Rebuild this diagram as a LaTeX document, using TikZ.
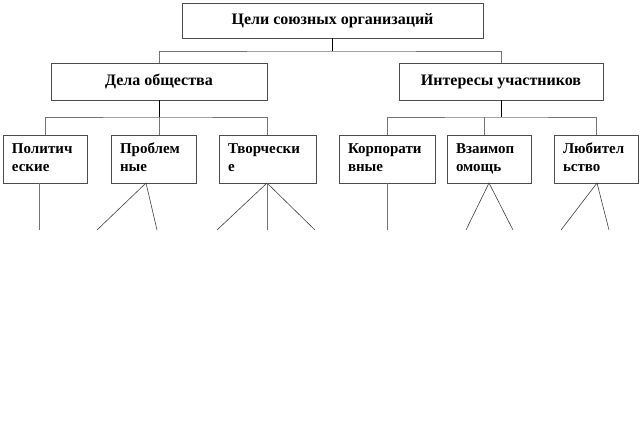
\documentclass[tikz,border=0pt]{standalone}
\usepackage{fontspec}
\setmainfont{Liberation Serif}
\tikzset{
  box/.style={draw=black!70, line width=0.8pt, fill=white, inner sep=0pt, font=\fontsize{16}{18}\selectfont\bfseries},
  leaf/.style={box, minimum height=48pt, align=left, inner xsep=9pt, font=\fontsize{15}{17.5}\selectfont\bfseries},
  conn/.style={draw=black!55, line width=0.8pt},
  stem/.style={draw=black, line width=0.9pt},
  diag/.style={draw=black!75, line width=0.6pt}
}
\begin{document}
\begin{tikzpicture}[x=1pt,y=-1pt]
\useasboundingbox (0,0) rectangle (642,423);
% top
\node[box, minimum width=301pt, minimum height=35pt] (top) at (332.5,20.5) {Цели союзных организаций};
\node[box, minimum width=216pt, minimum height=37pt] (da) at (159,81.5) {Дела общества};
\node[box, minimum width=204pt, minimum height=37pt] (ib) at (501,81.5) {Интересы участников};
% leaves
\node[leaf, minimum width=84pt, text width=66pt] (b1) at (45,159) {\strut Политич\\\strut еские};
\node[leaf, minimum width=85pt, text width=67pt] (b2) at (153.5,159) {\strut Проблем\\\strut ные};
\node[leaf, minimum width=97pt, text width=79pt] (b3) at (267.5,159) {\strut Творчески\\\strut е};
\node[leaf, minimum width=96pt, text width=78pt] (b4) at (387,159) {\strut Корпорати\\\strut вные};
\node[leaf, minimum width=84pt, text width=66pt] (b5) at (489,159) {\strut Взаимоп\\\strut омощь};
\node[leaf, minimum width=84pt, text width=66pt] (b6) at (596,159) {\strut Любител\\\strut ьство};
% buses
\coordinate (bus0) at (332.5,51);
\coordinate (busA) at (159,117);
\coordinate (busB) at (501,117);
\coordinate (dB5) at (484,117);
\draw[conn] (da.north) |- (bus0) -| (ib.north);
\draw[stem] (top.south) -- (bus0);
\draw[conn] (b1.north) |- (busA) -| (b3.north);
\draw[conn] (busA) -- (b2.north -| busA);
\draw[stem] (da.south) -- (busA);
\draw[conn] (b4.north) |- (busB) -| (b6.north);
\draw[conn] (dB5) -- (b5.north -| dB5);
\draw[stem] (ib.south) -- (busB);
% lower branches
\coordinate (e1) at (39,230);
\coordinate (a2) at (146,183);
\coordinate (e2a) at (97,230);
\coordinate (e2b) at (157,230);
\coordinate (a3) at (267,183);
\coordinate (e3a) at (217,230);
\coordinate (e3b) at (267,230);
\coordinate (e3c) at (315,230);
\coordinate (e4) at (387,230);
\coordinate (a5) at (489,183);
\coordinate (e5a) at (466,230);
\coordinate (e5b) at (513,230);
\coordinate (a6) at (597,183);
\coordinate (e6a) at (561,230);
\coordinate (e6b) at (609,230);
\draw[conn] (b1.south -| e1) -- (e1);
\draw[diag] (e2a) -- (a2) -- (e2b);
\draw[diag] (e3a) -- (a3) -- (e3c);
\draw[conn] (a3) -- (e3b);
\draw[conn] (b4.south) -- (e4);
\draw[diag] (e5a) -- (a5) -- (e5b);
\draw[diag] (e6a) -- (a6) -- (e6b);
\end{tikzpicture}
\end{document}
